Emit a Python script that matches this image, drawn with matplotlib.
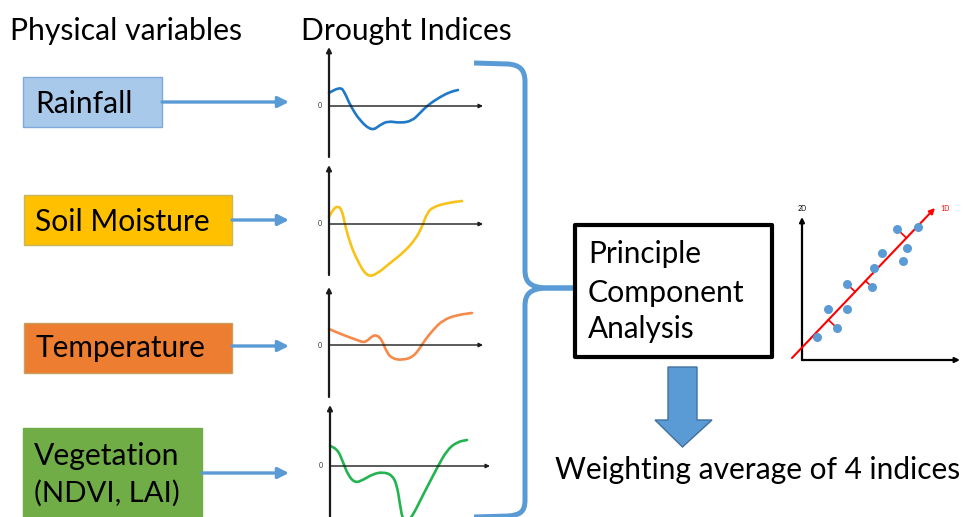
import numpy as np
import matplotlib
matplotlib.use("Agg")
import matplotlib.pyplot as plt
from matplotlib.patches import Rectangle, Polygon, PathPatch
from matplotlib.path import Path

plt.rcParams['font.family'] = ['Lato', 'DejaVu Sans']

# ---- data (local units: x from y-axis, y above zero line) ----
rain_x = [0, 11, 16, 21, 31, 43, 51, 59, 71, 83, 91, 99, 111, 121, 129]
rain_y = [13, 20, 13, 1, -15, -25, -19, -15, -17, -15, -7, 1, 9, 14, 16]

soil_x = [0, 4, 9, 13, 16, 21, 28, 38, 48, 61, 74, 86, 93, 98, 104, 118, 133]
soil_y = [7, 15, 18, 14, -1, -19, -36, -53, -50, -39, -29, -16, -3, 11, 17, 21, 23]

temp_x = [0, 14, 28, 36, 43, 48, 53, 58, 64, 74, 84, 91, 96, 104, 114, 128, 143]
temp_y = [16, 10, 5, 2, 9, 10, 5, -8, -14, -15, -12, -3, 5, 15, 25, 30, 32]

veg_x = [0, 7, 13, 18, 25, 33, 43, 53, 62, 67, 70, 73, 80, 93, 107, 117, 127, 137]
veg_y = [20, 18, 4, -9, -17, -14, -8, -6, -9, -19, -39, -55, -55, -29, -2, 16, 24, 26]

# PCA sketch
pca_x = [15, 26, 35, 45, 45, 70, 72, 80, 95, 116, 105, 101]
pca_y = [23, 51, 32, 51, 76, 73, 92, 107, 131, 133, 112, 99]
pca_line_x = [-10, 133]
pca_line_y = [2, 152]
pca_ticks = [2, 4, 5, 8]

variables = ['Rainfall', 'Soil Moisture', 'Temperature', 'Vegetation\n(NDVI, LAI)']

W, H = 965, 517
fig = plt.figure(figsize=(W / 100, H / 100), dpi=100)
base = fig.add_axes([0, 0, 1, 1])
base.set_xlim(0, W)
base.set_ylim(H, 0)
base.axis('off')
rend = fig.canvas.get_renderer()


def px_axes(x0, y0, x1, y1):
    return fig.add_axes([x0 / W, 1 - y1 / H, (x1 - x0) / W, (y1 - y0) / H])


def put(x, y, s, width, **kw):
    t = base.text(x, y, s, fontsize=20, ha='left', va='baseline', **kw)
    bb = t.get_window_extent(renderer=rend)
    t.set_fontsize(20 * width / bb.width)
    return t


def smooth_path(xs, ys):
    # quadratic bezier through midpoints, the read points act as control points
    pts = list(zip(xs, ys))
    verts = [pts[0]]
    codes = [Path.MOVETO]
    for i in range(1, len(pts) - 1):
        mid = ((pts[i][0] + pts[i + 1][0]) / 2, (pts[i][1] + pts[i + 1][1]) / 2)
        verts += [pts[i], mid]
        codes += [Path.CURVE3, Path.CURVE3]
    verts.append(pts[-1])
    codes.append(Path.LINETO)
    return Path(verts, codes)


# headers
put(10, 40, 'Physical variables', 232)
put(301, 40, 'Drought Indices', 211)

# variable boxes
boxes = [(23, 77, 139, 50, '#A9C9EA', '#7FA9D9'),
         (24, 195, 208, 50, '#FFC000', '#C8B560'),
         (24, 323, 208, 50, '#ED7D31', '#C8A060'),
         (23, 428, 179, 100, '#70AD47', '#70AD47')]
for (x, y, w, h, fc, ec) in boxes:
    base.add_patch(Rectangle((x, y), w, h, facecolor=fc, edgecolor=ec, lw=1))

put(35, 113, variables[0], 97)
put(35, 231, variables[1], 175)
put(35, 357, variables[2], 170)
put(34, 465, 'Vegetation', 146)
put(34, 502, '(NDVI, LAI)', 146)

# blue arrows to indices
for (x0, y0) in [(162, 102), (232, 220), (232, 346), (202, 473)]:
    base.annotate('', xy=(289, y0), xytext=(x0, y0),
                  arrowprops=dict(arrowstyle='-|>', color='#5B9BD5', lw=2.4,
                                  mutation_scale=16, shrinkA=0, shrinkB=0))

# mini drought index charts
minis = [(329, 47, 157, 106, 154, rain_x, rain_y, '#2079C7'),
         (329, 165, 275, 224, 154, soil_x, soil_y, '#F8C21A'),
         (329, 287, 397, 345, 154, temp_x, temp_y, '#F58A4B'),
         (330, 405, 527, 466, 160, veg_x, veg_y, '#23B34F')]
for (ax0, top, bot, zero, wid, cx, cy, col) in minis:
    ax = px_axes(ax0, top, ax0 + wid, bot)
    ax.set_xlim(0, wid)
    ax.set_ylim(zero - bot, zero - top)
    ax.axis('off')
    ax.annotate('', xy=(0, zero - top), xytext=(0, zero - bot),
                arrowprops=dict(arrowstyle='-|>', color='#1a1a1a', lw=1.6,
                                mutation_scale=7, shrinkA=0, shrinkB=0),
                annotation_clip=False)
    ax.annotate('', xy=(wid, 0), xytext=(0, 0),
                arrowprops=dict(arrowstyle='-|>', color='#1a1a1a', lw=1.0,
                                mutation_scale=6, shrinkA=0, shrinkB=0),
                annotation_clip=False)
    ax.text(-9, 0, '0', fontsize=5, ha='center', va='center', color='#333333')
    ax.add_patch(PathPatch(smooth_path(cx, cy), facecolor='none', edgecolor=col,
                           lw=1.9, joinstyle='round', capstyle='round', clip_on=False))

# blue brace
upper = Path([(474, 63), (508, 64), (520, 65), (525, 70), (525, 82), (525, 270),
              (525, 282), (530, 287), (545, 288), (578, 288)],
             [Path.MOVETO, Path.LINETO, Path.CURVE4, Path.CURVE4, Path.CURVE4,
              Path.LINETO, Path.CURVE4, Path.CURVE4, Path.CURVE4, Path.LINETO])
lower = Path([(578, 288), (545, 288), (530, 289), (525, 294), (525, 306), (525, 500),
              (525, 512), (520, 515), (508, 516), (474, 517)],
             [Path.MOVETO, Path.LINETO, Path.CURVE4, Path.CURVE4, Path.CURVE4,
              Path.LINETO, Path.CURVE4, Path.CURVE4, Path.CURVE4, Path.LINETO])
for p in (upper, lower):
    base.add_patch(PathPatch(p, facecolor='none', edgecolor='#5B9BD5', lw=3.6,
                             capstyle='butt'))

# PCA box
base.add_patch(Rectangle((575, 225), 197, 132, facecolor='white', edgecolor='black', lw=3,
                         joinstyle='round', zorder=3))
put(588, 263, 'Principle', 114, zorder=4)
put(588, 302, 'Component', 157, zorder=4)
put(588, 338, 'Analysis', 107, zorder=4)

# down arrow
base.add_patch(Polygon([(668, 367), (697, 367), (697, 420), (712, 420), (682.5, 447),
                        (655, 420), (668, 420)], closed=True,
                       facecolor='#5B9BD5', edgecolor='#41719C', lw=1))
put(555, 479, 'Weighting average of 4 indices', 407)

# PCA sketch
pa = px_axes(802, 217, 960, 360)
pa.set_xlim(0, 158)
pa.set_ylim(0, 143)
pa.axis('off')
pa.annotate('', xy=(0, 143), xytext=(0, 0),
            arrowprops=dict(arrowstyle='-|>', color='black', lw=1.6,
                            mutation_scale=7, shrinkA=0, shrinkB=0), annotation_clip=False)
pa.annotate('', xy=(158, 0), xytext=(0, 0),
            arrowprops=dict(arrowstyle='-|>', color='black', lw=1.6,
                            mutation_scale=7, shrinkA=0, shrinkB=0), annotation_clip=False)
pa.annotate('', xy=(pca_line_x[1], pca_line_y[1]), xytext=(pca_line_x[0], pca_line_y[0]),
            arrowprops=dict(arrowstyle='-|>', color='#FF0000', lw=1.5,
                            mutation_scale=8, shrinkA=0, shrinkB=0), annotation_clip=False)
d = np.array([pca_line_x[1] - pca_line_x[0], pca_line_y[1] - pca_line_y[0]], float)
d /= np.hypot(*d)
o = np.array([pca_line_x[0], pca_line_y[0]], float)
for i in pca_ticks:
    p = np.array([pca_x[i], pca_y[i]], float)
    f = o + np.dot(p - o, d) * d
    pa.plot([p[0], f[0]], [p[1], f[1]], color='#FF0000', lw=1.2)
pa.scatter(pca_x, pca_y, s=30, color='#5B9BD5', zorder=3, clip_on=False)
pa.text(0, 151, '2D', fontsize=5, ha='center', va='center')
pa.text(143, 151, '1D', fontsize=5, ha='center', va='center', color='#FF0000')

fig.savefig('out.png', dpi=100)
